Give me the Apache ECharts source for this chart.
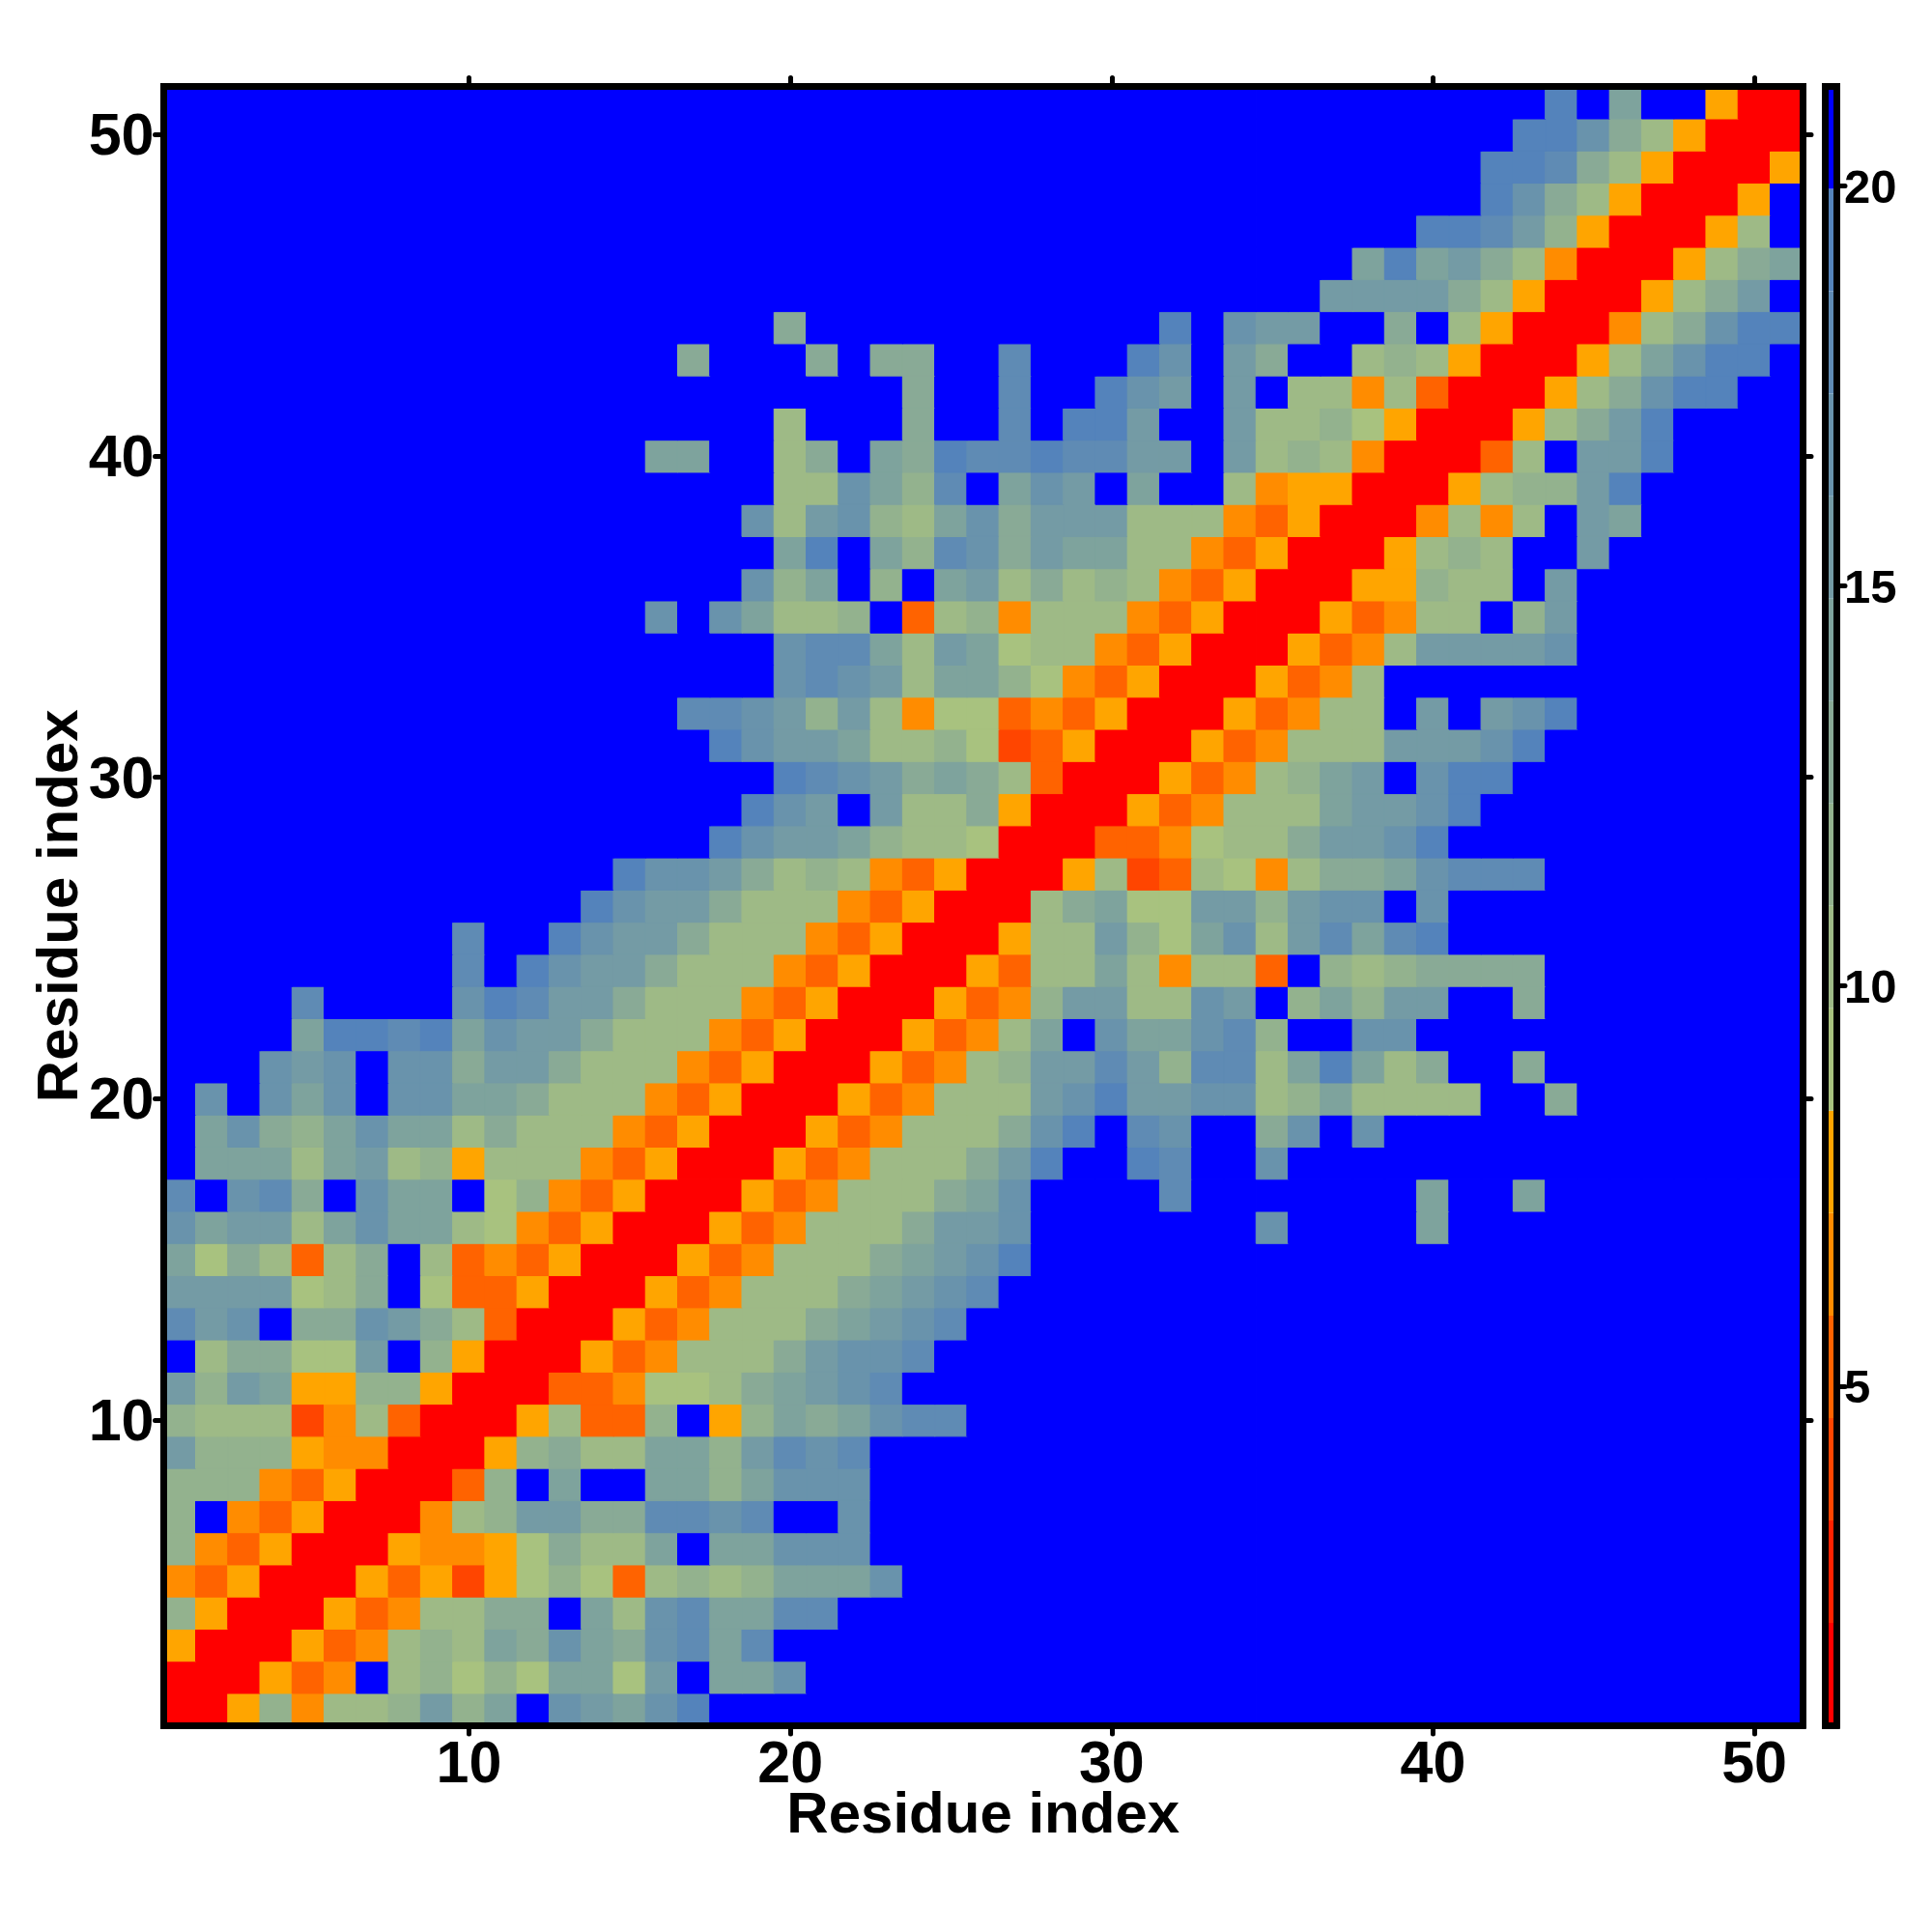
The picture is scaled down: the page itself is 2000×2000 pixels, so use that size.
<!DOCTYPE html>
<html>
<head>
<meta charset="utf-8">
<title>Residue distance map</title>
<script src="https://cdn.jsdelivr.net/npm/echarts@6/dist/echarts.min.js"></script>
<style>html,body{margin:0;padding:0;background:#fff}#c{width:2000px;height:2000px}</style>
</head>
<body>
<div id="c"></div>
<script>
// Residue numbers on both axes, and the labelled ones.
const residues = Array.from({length: 51}, (_, i) => String(i + 1));
const tickResidues = [10, 20, 30, 40, 50];
const colorbarTicks = [5, 10, 15, 20];
// Colour-bar band limits (distance) and band colours, 16 levels.
const bandEdges = [0.76, 2.04, 3.32, 4.6, 5.88, 7.16, 8.44, 9.72, 11, 12.28, 13.56, 14.84, 16.12, 17.4, 18.68, 19.96, 21.24];
const bandColors = ['#ff0000', '#ff2200', '#ff4500', '#ff6300', '#ff8c00', '#ffa500',
  '#a8c27f', '#9eba86', '#93b28e', '#89aa96', '#7ea39d', '#749ba5', '#6993ac', '#5f8bb4', '#5483bb', '#0000ff'];
// Each row (residue 1 upward): count of leading far cells, then one hex digit = band per cell. Missing trailing cells are far (band f).
const rowLead = [0,0,0,0,0,0,0,0,0,0,0,0,0,0,0,0,0,0,0,0,0,0,0,9,9,13,14,17,18,19,17,16,19,19,15,18,19,18,19,15,19,23,16,19,36,37,39,41,41,42,43];
const rowBands = [
 "00584778b8afcbace",
 "000534f78686aa6bfaac",
 "5000534787a9ca9cdad",
 "850005347799fa7cdaadd",
 "4350005352568637878aaac",
 "843500054456977afaaccc",
 "8f435000478bb99ddcdffc",
 "88843500038faffaa8accc",
 "b88854400058977aa8bdcd",
 "8777247300057338f58a9acdd",
 "b8ba558850003346679abcd",
 "f79966bf850005347779bccd",
 "dbcf99cb9730005347779abcd",
 "bbbb679f63350005347779abcd",
 "a697379f734350005347779abce",
 "cabb7acaa764350005347779bbcfffffffcffffa",
 "dfcd9fcaaf684350005347779acffffdfffffffaffa",
 "faaa7ab7857774350005347779beffedffc",
 "fac98acaa797774350005347779cefdcff9cfc",
 "fcfcacfccaa9777435000534777bcebbcc78a7777ff9",
 "fffcbcfcc9bb977743500053478bbdb8dd7aea79ff9",
 "ffffaeedeacbb97774350005347afcaacd8ffcc",
 "ffffdffffcedbb97774350005348bb77cbf8a8bbff9",
 "dfecbb97774350005377a74773f8789999",
 "dffecbb9777435000577b86ac7bdade",
 "ecbb977743500079a66bb8bccfc",
 "eccb97874350005723764799acddd",
 "ecbba87760003346779bbce",
 "ecbfb7795000534777abbce",
 "edcb9a97300053478abfcee",
 "ecbba7786235000534777bbbce",
 "ddcb8b7466343500053477fbfbce",
 "cdcb7aa864350005347",
 "cdda7ba6774350005347bbbbc",
 "cfca778f378477743500053477f8b",
 "c8af8fab7978743500055877fb",
 "aefa8dc9baa774350005787ffb",
 "c7bc87ac9bbb7774350004747fba",
 "77ca8dfacbfaff74550005788be",
 "aaff79fa9eddeddbbfb787400037fbbe",
 "7fff9ffdfeebffb77865000579be",
 "9ffdffecbfbf77473000579cee",
 "9fff9f99ffdfffecfb9ff787500057acee",
 "9fffffffffffefcbbff9f75000479cee",
 "bbbb975000579b",
 "aeab974000579a",
 "eedb8500057",
 "ec9750005",
 "eed9750005",
 "eec975000",
 "efaff500"
];
const axisTitle = 'Residue index';

const bandMid = i => (bandEdges[i] + bandEdges[i + 1]) / 2;
const cells = [];
rowBands.forEach((s, r) => {
  const full = ('f'.repeat(rowLead[r]) + s).padEnd(residues.length, 'f');
  for (let c = 0; c < residues.length; c++) {
    const band = parseInt(full[c], 16);
    // The 1px border in the cell's own colour closes hairline seams between neighbouring cells.
    cells.push({value: [c, r, bandMid(band)], itemStyle: {borderColor: bandColors[band], borderWidth: 1}});
  }
});
const pieces = bandColors.map((color, i) => ({gte: bandEdges[i], lt: bandEdges[i + 1], color}));
const barRows = bandColors.map((color, i) => [bandEdges[i], bandEdges[i + 1], i]);

const FONT = '"Liberation Sans", Arial, sans-serif';
const isTick = (i, v) => tickResidues.includes(+v);
const frame = {show: true, onZero: false, lineStyle: {color: '#000', width: 7, cap: 'square'}};
const tick = {show: true, interval: isTick, alignWithLabel: true, length: 9, lineStyle: {color: '#000', width: 5, cap: 'round'}};
const labelStyle = {color: '#000', fontFamily: FONT, fontWeight: 'bold', fontSize: 61};
const nameStyle = {color: '#000', fontFamily: FONT, fontWeight: 'bold', fontSize: 60};

const option = {
  animation: false,
  backgroundColor: '#fff',
  grid: [
    {left: 169.5, top: 89.5, width: 1696.5, height: 1696.5},
    {left: 1889.5, top: 89.5, width: 11.5, height: 1696.5}
  ],
  xAxis: [
    {type: 'category', gridIndex: 0, position: 'bottom', data: residues, z: 5, axisLine: frame, axisTick: tick,
     axisLabel: {...labelStyle, interval: isTick, margin: 12}, splitLine: {show: false},
     name: axisTitle, nameLocation: 'middle', nameGap: 64, nameMoveOverlap: false, nameTextStyle: nameStyle},
    {type: 'category', gridIndex: 0, position: 'top', data: residues, z: 5, axisLine: frame, axisTick: tick,
     axisLabel: {show: false}, splitLine: {show: false}},
    {type: 'value', gridIndex: 1, position: 'bottom', min: 0, max: 1, z: 5, axisLine: frame, axisTick: {show: false},
     axisLabel: {show: false}, splitLine: {show: false}},
    {type: 'value', gridIndex: 1, position: 'top', min: 0, max: 1, z: 5, axisLine: frame, axisTick: {show: false},
     axisLabel: {show: false}, splitLine: {show: false}}
  ],
  yAxis: [
    {type: 'category', gridIndex: 0, position: 'left', data: residues, z: 5, axisLine: frame, axisTick: tick,
     axisLabel: {...labelStyle, interval: isTick, margin: 10, verticalAlign: 'top', lineHeight: 8}, splitLine: {show: false},
     name: axisTitle, nameLocation: 'middle', nameGap: 76, nameMoveOverlap: false, nameRotate: 90, nameTextStyle: nameStyle},
    {type: 'category', gridIndex: 0, position: 'right', data: residues, z: 5, axisLine: frame, axisTick: tick,
     axisLabel: {show: false}, splitLine: {show: false}},
    {type: 'value', gridIndex: 1, position: 'right', min: bandEdges[0], max: bandEdges[bandEdges.length - 1], z: 5,
     axisLine: frame,
     axisTick: {show: true, customValues: colorbarTicks, length: 9, lineStyle: {color: '#000', width: 5, cap: 'round'}},
     axisLabel: {customValues: colorbarTicks, color: '#000', fontFamily: FONT, fontWeight: 'bold', fontSize: 49, margin: 8, verticalAlign: 'top', lineHeight: 8},
     splitLine: {show: false}},
    {type: 'value', gridIndex: 1, position: 'left', min: bandEdges[0], max: bandEdges[bandEdges.length - 1], z: 5,
     axisLine: frame, axisTick: {show: false}, axisLabel: {show: false}, splitLine: {show: false}}
  ],
  visualMap: {show: false, type: 'piecewise', seriesIndex: 0, dimension: 2, pieces},
  series: [
    {type: 'heatmap', xAxisIndex: 0, yAxisIndex: 0, data: cells, progressive: 0, silent: true},
    {type: 'custom', xAxisIndex: 2, yAxisIndex: 2, data: barRows, silent: true, clip: true,
     renderItem(params, api) {
       const a = api.coord([0, api.value(0)]);
       const b = api.coord([1, api.value(1)]);
       return {type: 'rect', shape: {x: a[0], y: b[1], width: b[0] - a[0], height: a[1] - b[1]},
               style: {fill: bandColors[api.value(2)]}};
     }}
  ]
};
echarts.init(document.getElementById('c'), null, {renderer: 'canvas'}).setOption(option);
</script>
</body>
</html>
